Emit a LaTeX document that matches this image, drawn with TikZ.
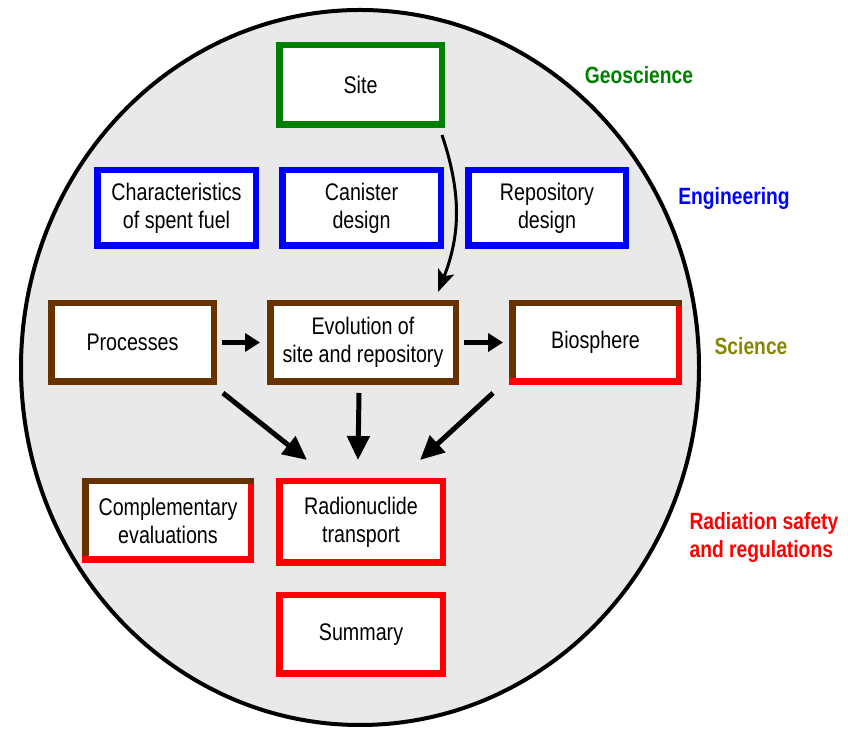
\documentclass[tikz,border=0pt]{standalone}
\usepackage{fontspec}
\setmainfont{Liberation Sans}[FakeStretch=0.82]
\usetikzlibrary{arrows.meta}

\definecolor{geogreen}{RGB}{0,128,0}
\definecolor{engblue}{RGB}{0,0,255}
\definecolor{scibrown}{RGB}{102,51,0}
\definecolor{sciolive}{RGB}{135,135,0}
\definecolor{radred}{RGB}{255,0,0}
\definecolor{diskgray}{RGB}{233,233,233}

\tikzset{
  box/.style={draw,fill=white,line width=6.5pt,inner sep=0pt,align=center,
    minimum height=78.5pt,font=\fontsize{24}{28}\selectfont},
  area/.style={font=\bfseries\fontsize{23.5}{28}\selectfont,align=left},
  fatarrow/.style={line width=5pt,-{Triangle[length=24pt,width=22pt]}},
  shortarrow/.style={line width=5pt,-{Triangle[length=15pt,width=18pt]}}
}

\begin{document}
\begin{tikzpicture}[x=1pt,y=1pt]
    \useasboundingbox (0,0) rectangle (848,730);

    % The grey disc behind everything
    \draw[line width=4pt,fill=diskgray] (360,362.5) ellipse [x radius=339,y radius=357.5];

    % Top: the site
    \node[box,draw=geogreen,minimum width=162.5pt,minimum height=79.5pt] (site) at (360.5,645) {Site};

    % Engineering row
    \node[box,draw=engblue,minimum width=158.5pt,minimum height=75.5pt] (fuel) at (176.5,522) {Characteristics\\of spent fuel};
    \node[box,draw=engblue,minimum width=158.5pt,minimum height=75.5pt] (canister) at (361.5,522) {Canister\\design};
    \node[box,draw=engblue,minimum width=157.5pt,minimum height=75.5pt] (repo) at (547,522) {Repository\\design};

    % Science row
    \node[box,draw=scibrown,minimum width=162.5pt] (proc) at (132.5,387.5) {Processes};
    \node[box,draw=scibrown,minimum width=185.5pt] (evo) at (363,387.5) {Evolution of\\site and repository};
    \node[box,draw=scibrown,minimum width=166.5pt] (bio) at (595.5,387.5) {Biosphere};
    \draw[radred,line width=6.5pt] ([shift={(-3.25,-6.5)}]bio.north east) -- ([shift={(-3.25,3.25)}]bio.south east) -- ([shift={(0,3.25)}]bio.south west);

    % Radiation safety boxes
    \node[box,draw=scibrown,minimum width=165.5pt] (comp) at (168,209.5) {Complementary\\evaluations};
    \draw[radred,line width=6.5pt] ([shift={(-3.25,-6.5)}]comp.north east) -- ([shift={(-3.25,3.25)}]comp.south east) -- ([shift={(0,3.25)}]comp.south west);
    \node[box,draw=radred,minimum width=163.5pt,minimum height=81.5pt] (trans) at (361,208) {Radionuclide\\transport};
    \node[box,draw=radred,minimum width=163.5pt] (summ) at (361,95.5) {Summary};

    % Arrows
    \draw[line width=3pt,-{Stealth[length=22pt,width=17pt,inset=5pt]}] ([shift={(-3,-7)}]site.south east) to[bend left=20] ([shift={(-21,8)}]evo.north east);
    \draw[shortarrow] ([xshift=5pt]proc.east) -- ([xshift=-7pt]evo.west);
    \draw[shortarrow] ([xshift=5pt]evo.east) -- ([xshift=-6pt]bio.west);
    \draw[fatarrow] ([shift={(6,-8)}]proc.south east) -- ([shift={(31,18)}]trans.north west);
    \draw[fatarrow] ([shift={(-4,-8)}]evo.south) -- ([shift={(-3,18)}]trans.north);
    \draw[fatarrow] ([shift={(-16,-8)}]bio.south west) -- ([shift={(-26,18)}]trans.north east);

    % Labels on the right
    \node[area,text=geogreen] (geo) at (639,655) {Geoscience};
    \node[area,text=engblue] (eng) at (734,532) {Engineering};
    \node[area,text=sciolive] (sci) at (751,384) {Science};
    \node[area,text=radred,anchor=west] (safety) at (686,193) {Radiation safety\\and regulations};
\end{tikzpicture}
\end{document}
